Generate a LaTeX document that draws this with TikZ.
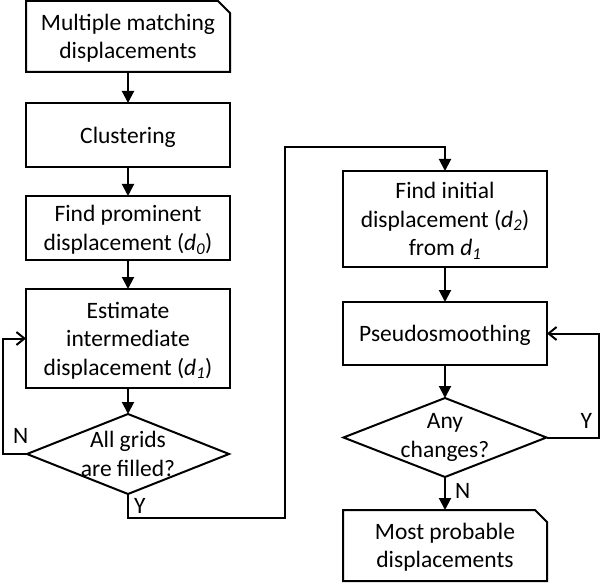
\documentclass[tikz,border=0pt]{standalone}
\usepackage{fontspec}
\setmainfont{Carlito}
\usetikzlibrary{positioning, arrows.meta, shapes.geometric}

\begin{document}
\begin{tikzpicture}[
    font=\fontsize{23.5pt}{28.5pt}\selectfont,
    line width=2pt,
    block/.style={rectangle, draw=black, minimum width=204pt, align=center, inner sep=2pt, outer sep=0pt, text depth=0pt},
    docbox/.style={rectangle, minimum width=204pt, align=center, inner sep=2pt, outer sep=0pt, text depth=0pt},
    decision/.style={diamond, draw=black, minimum width=202pt, minimum height=80pt, inner sep=0pt, outer sep=0pt, aspect=2.5},
    flag/.style={inner sep=0pt},
    arr/.style={-{Triangle[length=12pt, width=12pt]}},
    loop/.style={-{Straight Barb[length=8pt, width=13pt]}}
]
\useasboundingbox (0,0) rectangle (600pt,-583pt);

% Left column
\node[docbox, minimum height=71pt] (multi) at (128pt,-36.5pt) {Multiple matching\\displacements};
\node[block, minimum height=64pt, below=31pt of multi] (cluster) {Clustering};
\node[block, minimum height=64pt, below=29pt of cluster] (prominent) {Find prominent\\displacement (\textit{d\textsubscript{0}})};
\node[block, minimum height=99pt, below=29pt of prominent] (estimate) {Estimate\\intermediate\\displacement (\textit{d\textsubscript{1}})};
\node[decision, below=26pt of estimate, label={[align=center]center:All grids\\are filled?}] (filled) {};

% Right column
\node[block, minimum height=96pt] (initial) at (445pt,-219pt) {Find initial\\displacement (\textit{d\textsubscript{2}})\\from \textit{d\textsubscript{1}}};
\node[block, minimum height=63pt, below=35pt of initial] (smooth) {Pseudosmoothing};
\node[decision, minimum width=203pt, minimum height=79pt, below=33pt of smooth, label={[align=center]center:Any\\changes?}] (changes) {};
\node[docbox, minimum height=71pt, below=33pt of changes] (probable) {Most probable\\displacements};

% Folded corners
\draw (multi.south west) |- ([xshift=-12pt]multi.north east) -- ([yshift=-12pt]multi.north east) |- cycle;
\draw (probable.south west) |- ([xshift=-12pt]probable.north east) -- ([yshift=-12pt]probable.north east) |- cycle;

\coordinate (jump) at (285pt,-147pt);

% Straight arrows
\draw[arr] (multi) -- (cluster);
\draw[arr] (cluster) -- (prominent);
\draw[arr] (prominent) -- (estimate);
\draw[arr] (estimate) -- (filled);
\draw[arr] (initial) -- (smooth);
\draw[arr] (smooth) -- (changes);
\draw[arr] (changes.south) node[flag, anchor=north west, xshift=9pt, yshift=-5pt] {N} -- (probable);

% Loops
\draw[loop] (filled.west) -- ++(-24pt,0) node[flag, anchor=south west, xshift=9pt, yshift=10pt] {N} |- (estimate.west);
\draw[loop] (changes.east) -- ++(52.5pt,0) node[flag, anchor=south east, xshift=-6pt, yshift=8pt] {Y} |- (smooth.east);

% Jump to the right column
\draw[arr] (filled.south) node[flag, anchor=north west, xshift=5pt, yshift=-3pt] {Y} -- ++(0,-24pt) -| (jump) -| (initial.north);

\end{tikzpicture}
\end{document}
